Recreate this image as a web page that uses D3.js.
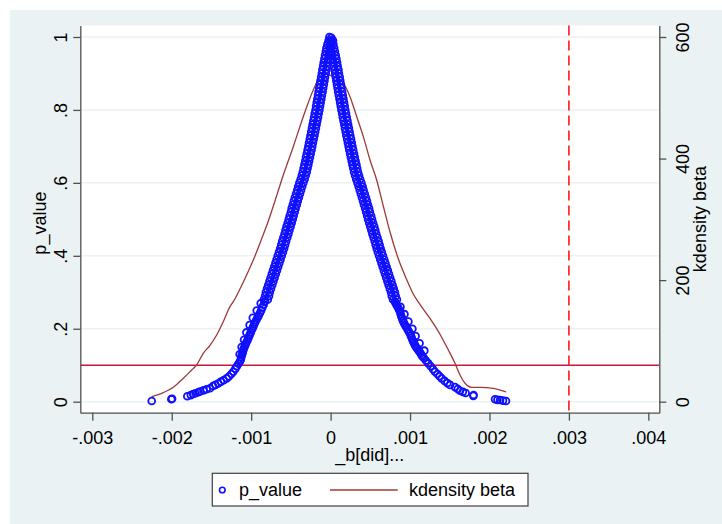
<!DOCTYPE html>
<html>
<head>
<meta charset="utf-8">
<script src="https://cdnjs.cloudflare.com/ajax/libs/d3/7.8.5/d3.min.js"></script>
<style>
  html, body { margin: 0; padding: 0; background: #fff; }
  svg { display: block; font-family: "Liberation Sans", Arial, sans-serif; }
</style>
</head>
<body>
<svg id="vis" width="722" height="524"></svg>
<script>
// beta values are in thousandths (1 = .001)
const xTicks = [-3, -2, -1, 0, 1, 2, 3, 4];
const xTickLabels = ["-.003", "-.002", "-.001", "0", ".001", ".002", ".003", ".004"];
const yTicks = [0, 0.2, 0.4, 0.6, 0.8, 1];
const yTickLabels = ["0", ".2", ".4", ".6", ".8", "1"];
const yRightTicks = [0, 200, 400, 600];
const yRightTickLabels = ["0", "200", "400", "600"];

const pThreshold = 0.1;
const betaTrue = 3;

// p_value scatter, left side [beta, p]
const leftPoints = [
    [-2.252, 0.002], [-2.005, 0.007], [-1.995, 0.008], [-1.804, 0.015], [-1.76, 0.018],
    [-1.729, 0.021], [-1.70, 0.023], [-1.665, 0.026], [-1.644, 0.028], [-1.60, 0.031],
    [-1.56, 0.034], [-1.518, 0.037], [-1.48, 0.043], [-1.45, 0.046], [-1.414, 0.050],
    [-1.38, 0.055], [-1.345, 0.059], [-1.308, 0.064], [-1.28, 0.069], [-1.25, 0.076],
    [-1.225, 0.082], [-1.20, 0.090], [-1.18, 0.097], [-1.16, 0.104], [-1.141, 0.110],
    [-1.125, 0.122], [-1.11, 0.132], [-1.099, 0.142], [-1.08, 0.152], [-1.06, 0.163],
    [-1.036, 0.174], [-1.015, 0.185], [-0.995, 0.196], [-0.973, 0.206], [-0.95, 0.218],
    [-0.92, 0.230], [-0.889, 0.243], [-0.86, 0.258], [-0.826, 0.275],
    [-0.84, 0.28], [-0.775, 0.29], [-0.815, 0.30], [-0.75, 0.31], [-0.785, 0.32],
    [-0.72, 0.33], [-0.755, 0.34], [-0.69, 0.35], [-0.725, 0.36], [-0.66, 0.37],
    [-0.695, 0.38], [-0.63, 0.39], [-0.665, 0.40], [-0.60, 0.41], [-0.635, 0.42],
    [-0.572, 0.43], [-0.61, 0.44], [-0.545, 0.45], [-0.58, 0.46], [-0.518, 0.47],
    [-0.555, 0.48], [-0.49, 0.49], [-0.527, 0.50], [-0.465, 0.51], [-0.50, 0.52],
    [-0.44, 0.53], [-0.476, 0.54], [-0.413, 0.55], [-0.45, 0.56], [-0.385, 0.57],
    [-0.42, 0.58], [-0.358, 0.59], [-0.393, 0.60], [-0.327, 0.61], [-0.363, 0.62],
    [-0.30, 0.63], [-0.34, 0.64], [-0.28, 0.65], [-0.32, 0.66], [-0.26, 0.67],
    [-0.30, 0.68], [-0.24, 0.69], [-0.28, 0.70], [-0.222, 0.71], [-0.262, 0.72],
    [-0.203, 0.73], [-0.244, 0.74], [-0.185, 0.75], [-0.226, 0.76], [-0.167, 0.77],
    [-0.208, 0.78], [-0.15, 0.79], [-0.19, 0.80], [-0.133, 0.81], [-0.175, 0.82],
    [-0.117, 0.83], [-0.158, 0.84], [-0.10, 0.85], [-0.143, 0.86], [-0.085, 0.87],
    [-0.127, 0.88], [-0.07, 0.89], [-0.11, 0.90], [-0.055, 0.91], [-0.094, 0.92],
    [-0.04, 0.93], [-0.078, 0.94], [-0.025, 0.95], [-0.06, 0.96], [-0.012, 0.97],
    [-0.04, 0.98], [0.0, 0.99], [-0.015, 1.0]
];

// second layer of the dense left band
const leftBand = [
    [-1.13, 0.116], [-1.118, 0.127], [-1.104, 0.137], [-1.09, 0.147], [-1.07, 0.157],
    [-1.048, 0.168], [-1.025, 0.180], [-1.005, 0.190], [-0.984, 0.201], [-0.962, 0.212],
    [-0.935, 0.224], [-0.905, 0.236], [-0.875, 0.250], [-0.843, 0.266],
    [-1.145, 0.130], [-1.12, 0.150], [-1.09, 0.170], [-1.06, 0.190], [-1.02, 0.210],
    [-0.98, 0.230], [-0.93, 0.250], [-0.88, 0.270],
    [-0.79, 0.28], [-0.825, 0.29], [-0.765, 0.30], [-0.80, 0.31], [-0.735, 0.32],
    [-0.77, 0.33], [-0.705, 0.34], [-0.74, 0.35], [-0.675, 0.36], [-0.71, 0.37],
    [-0.645, 0.38], [-0.68, 0.39], [-0.615, 0.40], [-0.65, 0.41], [-0.585, 0.42],
    [-0.622, 0.43], [-0.56, 0.44], [-0.595, 0.45], [-0.531, 0.46], [-0.568, 0.47],
    [-0.504, 0.48], [-0.54, 0.49], [-0.477, 0.50], [-0.515, 0.51], [-0.452, 0.52],
    [-0.49, 0.53], [-0.425, 0.54], [-0.463, 0.55], [-0.399, 0.56], [-0.435, 0.57],
    [-0.372, 0.58], [-0.408, 0.59], [-0.343, 0.60], [-0.377, 0.61], [-0.313, 0.62],
    [-0.35, 0.63], [-0.29, 0.64], [-0.33, 0.65], [-0.27, 0.66], [-0.31, 0.67],
    [-0.25, 0.68], [-0.29, 0.69], [-0.231, 0.70], [-0.272, 0.71], [-0.212, 0.72],
    [-0.253, 0.73], [-0.194, 0.74], [-0.235, 0.75], [-0.176, 0.76], [-0.217, 0.77],
    [-0.158, 0.78], [-0.20, 0.79], [-0.141, 0.80], [-0.183, 0.81], [-0.125, 0.82],
    [-0.167, 0.83], [-0.109, 0.84], [-0.151, 0.85], [-0.093, 0.86], [-0.135, 0.87],
    [-0.077, 0.88], [-0.119, 0.89], [-0.061, 0.90], [-0.104, 0.91], [-0.046, 0.92],
    [-0.087, 0.93], [-0.03, 0.94], [-0.07, 0.95], [-0.016, 0.96], [-0.052, 0.97],
    [0.0, 0.98], [-0.025, 0.99]
];

// p_value scatter, right side [beta, p]
const rightPoints = [
    [2.208, 0.002], [2.17, 0.003], [2.133, 0.0047], [2.10, 0.005], [2.07, 0.0066],
    [1.797, 0.016], [1.80, 0.018], [1.70, 0.024], [1.665, 0.027], [1.629, 0.030],
    [1.60, 0.035], [1.566, 0.040], [1.503, 0.046], [1.47, 0.051], [1.435, 0.057],
    [1.398, 0.064], [1.37, 0.070], [1.345, 0.076], [1.314, 0.082], [1.29, 0.089],
    [1.26, 0.097], [1.23, 0.105], [1.20, 0.113], [1.175, 0.120], [1.147, 0.127],
    [1.12, 0.137], [1.09, 0.146], [1.063, 0.155], [1.04, 0.165], [1.02, 0.176],
    [1.0, 0.187], [0.97, 0.198], [0.937, 0.210], [0.91, 0.222], [0.89, 0.234],
    [0.874, 0.247], [0.85, 0.258], [0.83, 0.266], [0.811, 0.274],
    [0.835, 0.28], [0.77, 0.29], [0.81, 0.30], [0.745, 0.31], [0.78, 0.32],
    [0.715, 0.33], [0.75, 0.34], [0.685, 0.35], [0.72, 0.36], [0.655, 0.37],
    [0.69, 0.38], [0.625, 0.39], [0.66, 0.40], [0.595, 0.41], [0.63, 0.42],
    [0.567, 0.43], [0.605, 0.44], [0.54, 0.45], [0.575, 0.46], [0.513, 0.47],
    [0.55, 0.48], [0.485, 0.49], [0.522, 0.50], [0.46, 0.51], [0.495, 0.52],
    [0.435, 0.53], [0.47, 0.54], [0.408, 0.55], [0.445, 0.56], [0.38, 0.57],
    [0.415, 0.58], [0.353, 0.59], [0.388, 0.60], [0.322, 0.61], [0.358, 0.62],
    [0.295, 0.63], [0.335, 0.64], [0.275, 0.65], [0.315, 0.66], [0.255, 0.67],
    [0.295, 0.68], [0.235, 0.69], [0.275, 0.70], [0.217, 0.71], [0.257, 0.72],
    [0.198, 0.73], [0.239, 0.74], [0.18, 0.75], [0.221, 0.76], [0.162, 0.77],
    [0.203, 0.78], [0.145, 0.79], [0.185, 0.80], [0.128, 0.81], [0.17, 0.82],
    [0.112, 0.83], [0.153, 0.84], [0.095, 0.85], [0.138, 0.86], [0.08, 0.87],
    [0.122, 0.88], [0.065, 0.89], [0.105, 0.90], [0.05, 0.91], [0.089, 0.92],
    [0.035, 0.93], [0.073, 0.94], [0.02, 0.95], [0.055, 0.96], [0.008, 0.97],
    [0.035, 0.98], [0.012, 0.99], [0.01, 0.998]
];

// second layer of the dense right band
const rightBand = [
    [1.16, 0.123], [1.135, 0.132], [1.105, 0.141], [1.075, 0.150], [1.05, 0.160],
    [1.03, 0.170], [1.01, 0.181], [0.985, 0.192], [0.953, 0.204], [0.923, 0.216],
    [0.90, 0.228], [0.882, 0.240], [0.862, 0.252], [0.84, 0.262], [0.82, 0.270],
    [1.18, 0.140], [1.12, 0.160], [1.07, 0.180], [1.03, 0.200], [0.98, 0.220],
    [0.93, 0.240], [0.88, 0.260],
    [0.785, 0.28], [0.82, 0.29], [0.76, 0.30], [0.795, 0.31], [0.73, 0.32],
    [0.765, 0.33], [0.70, 0.34], [0.735, 0.35], [0.67, 0.36], [0.705, 0.37],
    [0.64, 0.38], [0.675, 0.39], [0.61, 0.40], [0.645, 0.41], [0.58, 0.42],
    [0.617, 0.43], [0.555, 0.44], [0.59, 0.45], [0.526, 0.46], [0.563, 0.47],
    [0.50, 0.48], [0.535, 0.49], [0.472, 0.50], [0.51, 0.51], [0.447, 0.52],
    [0.485, 0.53], [0.42, 0.54], [0.458, 0.55], [0.394, 0.56], [0.43, 0.57],
    [0.367, 0.58], [0.403, 0.59], [0.338, 0.60], [0.372, 0.61], [0.308, 0.62],
    [0.345, 0.63], [0.285, 0.64], [0.325, 0.65], [0.265, 0.66], [0.305, 0.67],
    [0.245, 0.68], [0.285, 0.69], [0.227, 0.70], [0.267, 0.71], [0.208, 0.72],
    [0.248, 0.73], [0.19, 0.74], [0.23, 0.75], [0.172, 0.76], [0.212, 0.77],
    [0.153, 0.78], [0.195, 0.79], [0.136, 0.80], [0.178, 0.81], [0.12, 0.82],
    [0.162, 0.83], [0.104, 0.84], [0.146, 0.85], [0.088, 0.86], [0.13, 0.87],
    [0.072, 0.88], [0.115, 0.89], [0.058, 0.90], [0.099, 0.91], [0.042, 0.92],
    [0.082, 0.93], [0.026, 0.94], [0.065, 0.95], [0.012, 0.96], [0.045, 0.97],
    [0.0, 0.98], [0.03, 0.99]
];

// kernel density of beta [beta, density]
const kdensity = [
    [-2.252, 8.2], [-2.126, 13.8], [-1.98, 23.7], [-1.854, 38.5], [-1.749, 52.2],
    [-1.686, 60.4], [-1.603, 79.6], [-1.518, 92.8], [-1.434, 109.7], [-1.351, 131.6],
    [-1.267, 156.3], [-1.225, 164.5], [-1.141, 185.4], [-1.04, 213.4], [-0.952, 239.7],
    [-0.864, 269.3], [-0.788, 295.7], [-0.70, 330.2], [-0.616, 364.8], [-0.47, 419.5],
    [-0.344, 468.9], [-0.218, 512.8], [-0.133, 534.7], [-0.092, 540.3], [-0.049, 538.7],
    [0.014, 535.9], [0.097, 532.1], [0.16, 523.9], [0.244, 501.8], [0.329, 468.9],
    [0.412, 436.0], [0.496, 397.7], [0.58, 364.8], [0.66, 323.6], [0.748, 279.2],
    [0.849, 236.4], [0.949, 203.5], [1.037, 178.0], [1.125, 160.0], [1.251, 137.0],
    [1.377, 111.0], [1.482, 85.1], [1.566, 63.2], [1.629, 43.9], [1.692, 30.3],
    [1.776, 23.7], [1.881, 23.7], [2.048, 22.0], [2.208, 16.0]
];

const svg = d3.select("#vis");
const WIDTH = 722, HEIGHT = 524;
const plot = {left: 80.3, right: 659.3, top: 25.5, bottom: 412.7};
const bgColor = "#eaf2f3";
const axisColor = "#505050";
const blue = "#1010ff";
const maroon = "#9c3a38";

const x = d3.scaleLinear().domain([-3.151, 4.138]).range([plot.left, plot.right]);
const y = d3.scaleLinear().domain([-0.0302, 1.0315]).range([plot.bottom, plot.top]);
const yRight = d3.scaleLinear().domain([-18.12, 618.9]).range([plot.bottom, plot.top]);

// backgrounds
svg.append("rect").attr("width", WIDTH).attr("height", HEIGHT).attr("fill", "#fff");
svg.append("rect").attr("x", 10).attr("y", 10)
    .attr("width", WIDTH - 10).attr("height", HEIGHT - 10).attr("fill", bgColor);
svg.append("rect")
    .attr("x", plot.left).attr("y", plot.top)
    .attr("width", plot.right - plot.left).attr("height", plot.bottom - plot.top)
    .attr("fill", "#fff");

// gridlines
svg.append("g").selectAll("line")
    .data(yTicks)
    .enter().append("line")
    .attr("x1", plot.left).attr("x2", plot.right)
    .attr("y1", d => y(d)).attr("y2", d => y(d))
    .attr("stroke", bgColor).attr("stroke-width", 1.5);

// reference lines
svg.append("line")
    .attr("x1", plot.left).attr("x2", plot.right)
    .attr("y1", y(pThreshold)).attr("y2", y(pThreshold))
    .attr("stroke", "#c8193c").attr("stroke-width", 1.5);

svg.append("line")
    .attr("x1", x(betaTrue)).attr("x2", x(betaTrue))
    .attr("y1", plot.top).attr("y2", plot.bottom)
    .attr("stroke", "#ff1a1a").attr("stroke-width", 1.6)
    .attr("stroke-dasharray", "10,5");

// kdensity line
const line = d3.line()
    .x(d => x(d[0]))
    .y(d => yRight(d[1]))
    .curve(d3.curveMonotoneX);

svg.append("path")
    .datum(kdensity)
    .attr("d", line)
    .attr("fill", "none")
    .attr("stroke", maroon)
    .attr("stroke-width", 1.3);

// p_value markers
const allPoints = leftPoints.concat(leftBand, rightPoints, rightBand);
svg.append("g").selectAll("circle")
    .data(allPoints)
    .enter().append("circle")
    .attr("cx", d => x(d[0]))
    .attr("cy", d => y(d[1]))
    .attr("r", 3.4)
    .attr("fill", "none")
    .attr("stroke", blue)
    .attr("stroke-width", 1.8);

// axes
function styleAxis(g) {
    g.select(".domain").attr("stroke", axisColor).attr("stroke-width", 1.3);
    g.selectAll(".tick line").attr("stroke", axisColor).attr("stroke-width", 1.3);
    g.selectAll(".tick text").attr("fill", "#000").attr("font-size", "18px")
        .attr("font-family", "Liberation Sans, Arial, sans-serif");
}

const xAxis = svg.append("g")
    .attr("transform", "translate(0," + plot.bottom + ")")
    .call(d3.axisBottom(x).tickValues(xTicks).tickSizeInner(8).tickSizeOuter(0)
        .tickFormat((d, i) => xTickLabels[i]));
styleAxis(xAxis);
xAxis.selectAll(".tick text").attr("y", 0).attr("dy", 0)
    .attr("transform", "translate(0,31)");

const yAxis = svg.append("g")
    .attr("transform", "translate(" + plot.left + ",0)")
    .call(d3.axisLeft(y).tickValues(yTicks).tickSizeInner(7).tickSizeOuter(0)
        .tickFormat((d, i) => yTickLabels[i]));
styleAxis(yAxis);
yAxis.selectAll(".tick text")
    .attr("x", 0).attr("y", -13).attr("dy", 0)
    .attr("text-anchor", "middle")
    .attr("transform", "rotate(-90)");

const yAxisRight = svg.append("g")
    .attr("transform", "translate(" + plot.right + ",0)")
    .call(d3.axisRight(yRight).tickValues(yRightTicks).tickSizeInner(7).tickSizeOuter(0)
        .tickFormat((d, i) => yRightTickLabels[i]));
styleAxis(yAxisRight);
yAxisRight.selectAll(".tick text")
    .attr("x", 0).attr("y", 30).attr("dy", 0)
    .attr("text-anchor", "middle")
    .attr("transform", "rotate(-90)");

// axis titles
const midY = (plot.top + plot.bottom) / 2;
svg.append("text")
    .attr("transform", "translate(46," + (midY + 4) + ") rotate(-90)")
    .attr("text-anchor", "middle")
    .attr("font-size", "18px")
    .text("p_value");

svg.append("text")
    .attr("transform", "translate(706," + midY + ") rotate(-90)")
    .attr("text-anchor", "middle")
    .attr("font-size", "18px")
    .text("kdensity beta");

svg.append("text")
    .attr("x", (plot.left + plot.right) / 2)
    .attr("y", 461)
    .attr("text-anchor", "middle")
    .attr("font-size", "18px")
    .text("_b[did]...");

// legend
const legend = svg.append("g").attr("transform", "translate(212.3,473.3)");
legend.append("rect")
    .attr("width", 315.7).attr("height", 32.7)
    .attr("fill", "#fff").attr("stroke", "#404040").attr("stroke-width", 1.2);
legend.append("circle")
    .attr("cx", 10).attr("cy", 16.7).attr("r", 2.8)
    .attr("fill", "none").attr("stroke", blue).attr("stroke-width", 1.6);
legend.append("text")
    .attr("x", 26.7).attr("y", 23)
    .attr("font-size", "18px")
    .text("p_value");
legend.append("line")
    .attr("x1", 117.7).attr("x2", 185.4)
    .attr("y1", 16.7).attr("y2", 16.7)
    .attr("stroke", maroon).attr("stroke-width", 1.3);
legend.append("text")
    .attr("x", 196.7).attr("y", 23)
    .attr("font-size", "18px")
    .text("kdensity beta");
</script>
</body>
</html>
